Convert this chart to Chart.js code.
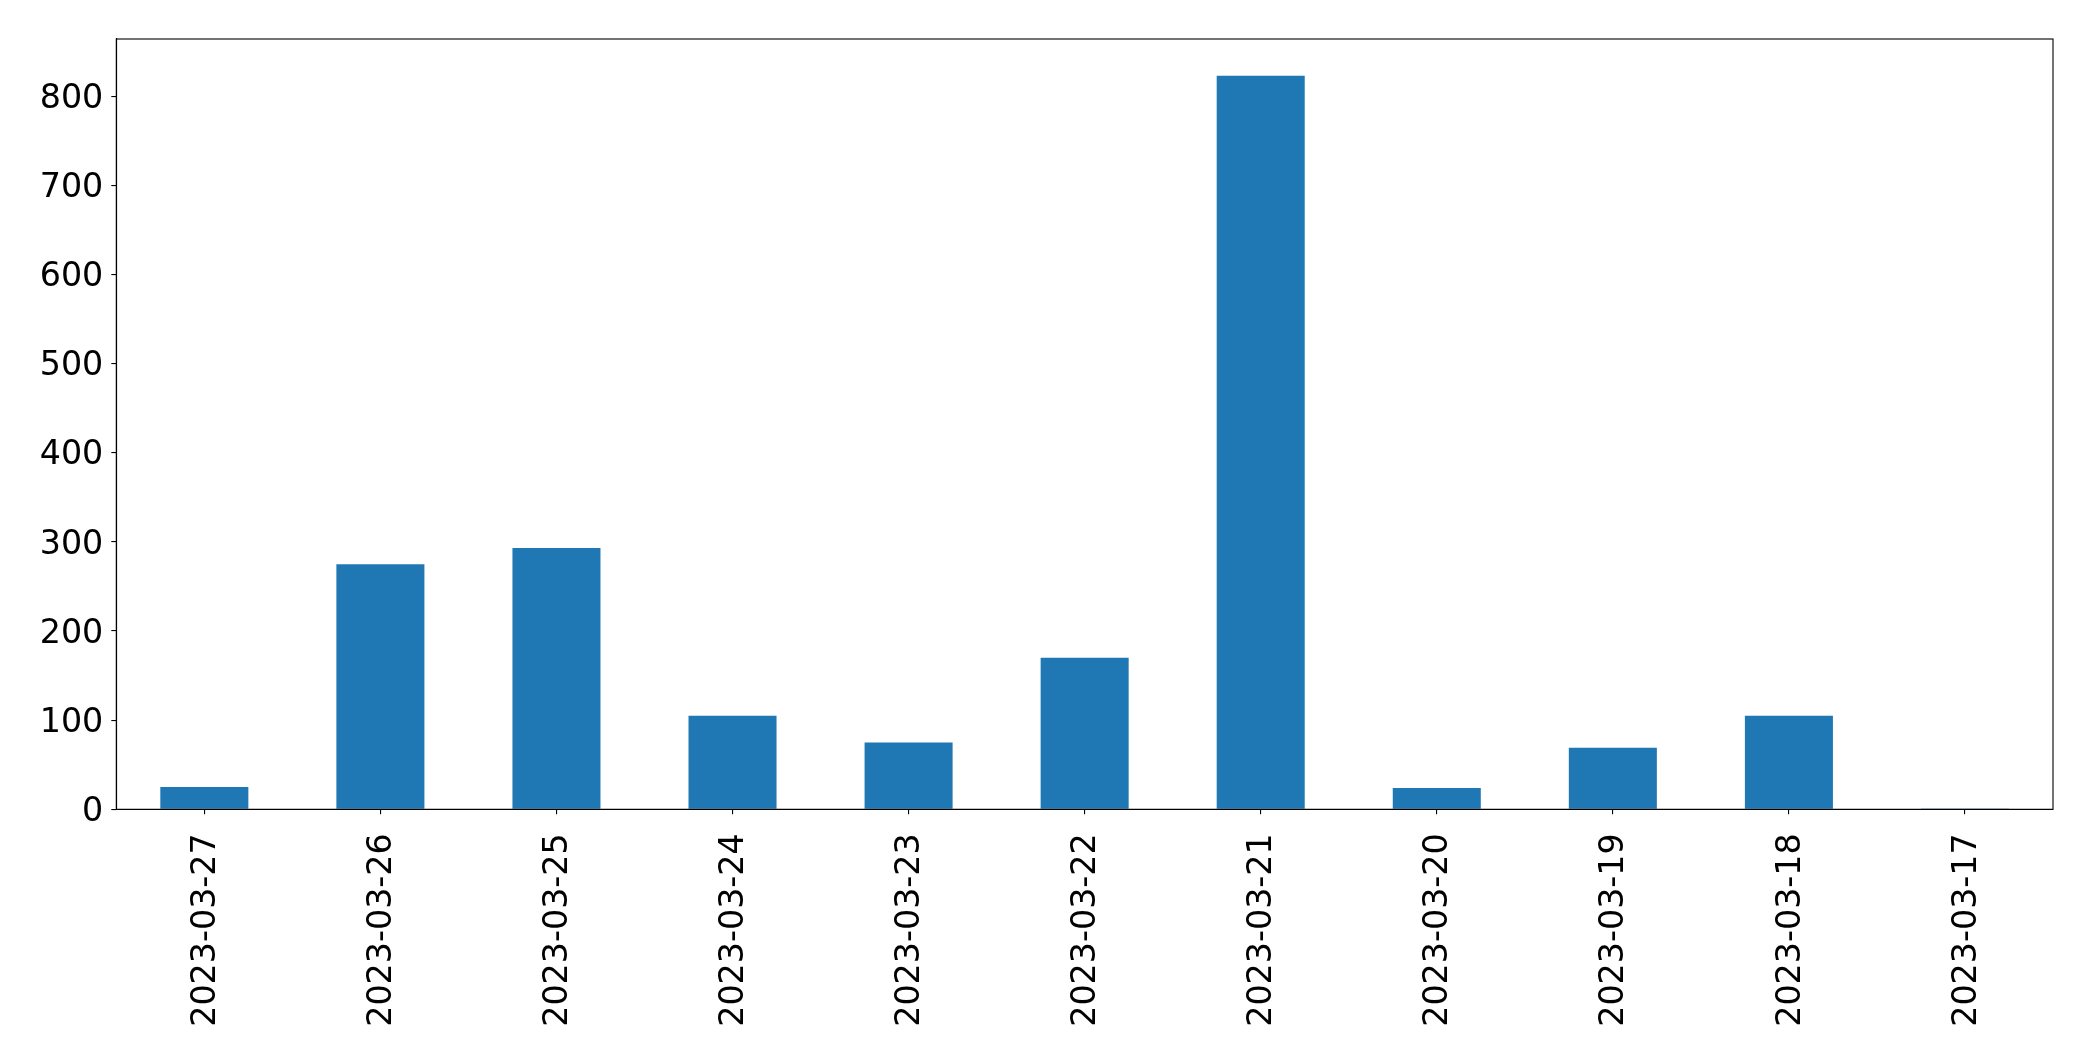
<!DOCTYPE html>
<html>
<head>
<meta charset="utf-8">
<script src="https://cdn.jsdelivr.net/npm/chart.js@4/dist/chart.umd.min.js"></script>
<style>
  html, body { margin: 0; padding: 0; background: #ffffff; }
  #wrap { width: 2093px; height: 1061px; }
</style>
</head>
<body>
<div id="wrap"><canvas id="c" width="2093" height="1061"></canvas></div>
<script>
const categories = ["2023-03-27", "2023-03-26", "2023-03-25", "2023-03-24", "2023-03-23", "2023-03-22", "2023-03-21", "2023-03-20", "2023-03-19", "2023-03-18", "2023-03-17"];
const counts = [25, 275, 293, 105, 75, 170, 823, 24, 69, 105, 1];
const yTickValues = [0, 100, 200, 300, 400, 500, 600, 700, 800];

const FONT = "'DejaVu Sans', sans-serif";

const framePlugin = {
  id: 'frame',
  afterDraw(chart) {
    const a = chart.chartArea;
    const ctx = chart.ctx;
    ctx.save();
    ctx.strokeStyle = '#000000';
    ctx.lineWidth = 1.1;
    ctx.strokeRect(a.left, a.top, a.right - a.left, a.bottom - a.top);
    ctx.restore();
  }
};

new Chart(document.getElementById('c'), {
  type: 'bar',
  data: {
    labels: categories,
    datasets: [{
      data: counts,
      backgroundColor: '#1f77b4',
      borderWidth: 0,
      barPercentage: 0.5,
      categoryPercentage: 1.0
    }]
  },
  options: {
    responsive: false,
    devicePixelRatio: 1,
    animation: false,
    layout: { padding: { left: 0, top: 39, right: 40, bottom: 0 } },
    plugins: { legend: { display: false }, tooltip: { enabled: false } },
    scales: {
      x: {
        grid: { display: true, offset: false, drawOnChartArea: false, drawTicks: true, tickLength: 5, color: '#000000', lineWidth: 1.1 },
        border: { display: true, color: '#000000', width: 1.1 },
        ticks: {
          color: '#000000',
          font: { family: FONT, size: 33.3 },
          minRotation: 90,
          maxRotation: 90,
          autoSkip: false,
          padding: 19,
          labelOffset: 2
        },
        afterFit(scale) { scale.height = 1061 - 809.3; }
      },
      y: {
        min: 0,
        max: Math.max(...counts) * 1.05,
        grid: { display: true, drawOnChartArea: false, drawTicks: true, tickLength: 5, color: '#000000', lineWidth: 1.1 },
        border: { display: true, color: '#000000', width: 1.1 },
        afterBuildTicks(scale) { scale.ticks = yTickValues.map(v => ({ value: v })); },
        ticks: {
          color: '#000000',
          font: { family: FONT, size: 33.3 },
          padding: 8,
          labelOffset: 3
        },
        afterFit(scale) { scale.width = 116.3; }
      }
    }
  },
  plugins: [framePlugin]
});
</script>
</body>
</html>
